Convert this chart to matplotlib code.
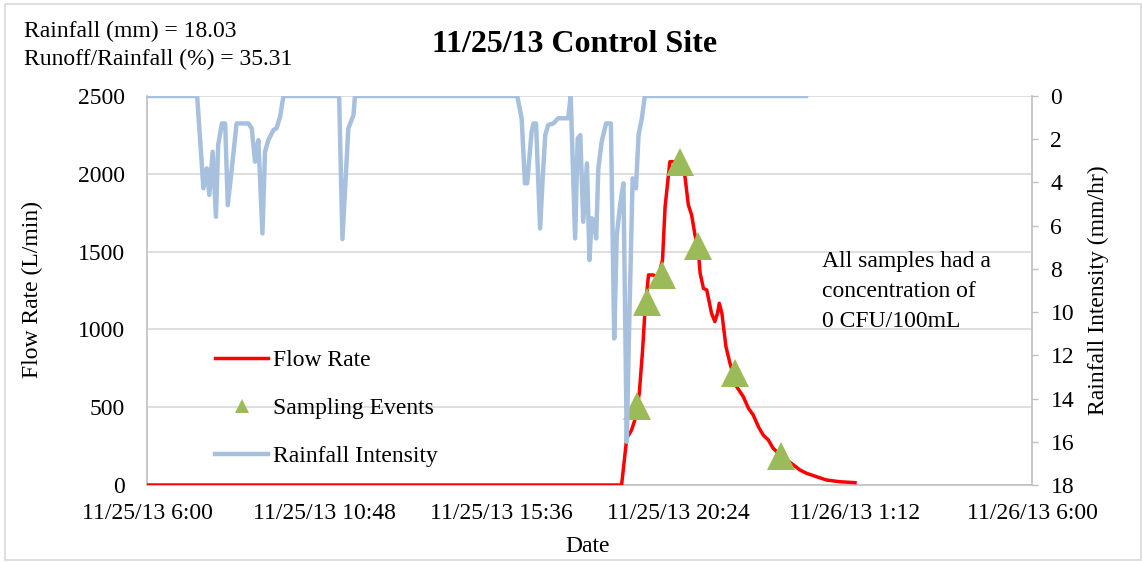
import matplotlib
matplotlib.use("Agg")
import matplotlib.pyplot as plt
from matplotlib.patches import Rectangle

plt.rcParams['font.family'] = ['Liberation Serif', 'DejaVu Serif']

# ---- data (x in hours after 11/25/13 6:00) ----
rain_hours = [0, 1.36, 1.53, 1.62, 1.69, 1.78, 1.87, 1.93, 2.03, 2.12, 2.19, 2.30, 2.43, 2.75,
              2.84, 2.93, 3.02, 3.13, 3.20, 3.29, 3.43, 3.51, 3.61, 3.70,
              5.21, 5.30, 5.46, 5.60, 5.64,
              10.04, 10.16, 10.25, 10.31, 10.43, 10.48, 10.55, 10.66, 10.73, 10.80, 10.88,
              11.02, 11.15, 11.42, 11.49, 11.61, 11.68, 11.75, 11.83, 11.93, 12.00, 12.06,
              12.12, 12.18, 12.24, 12.33, 12.45, 12.58, 12.67, 12.74, 12.83, 12.92, 13.01,
              13.08, 13.17, 13.26, 13.33, 13.42, 13.50, 17.87]
rain_intensity = [0, 0, 4.27, 3.35, 4.58, 2.58, 5.59, 2.27, 1.27, 1.27, 5.05, 3.35, 1.27, 1.27,
                  1.5, 3.04, 2.04, 6.36, 2.58, 2.04, 1.57, 1.5, 0.96, 0,
                  0, 6.62, 1.5, 0.88, 0,
                  0, 1.03, 4.04, 4.04, 1.65, 1.27, 1.27, 6.13, 3.81, 1.81, 1.34,
                  1.27, 1.03, 1.03, 0, 6.59, 1.96, 1.81, 5.82, 3.12, 7.59, 5.66,
                  5.74, 6.59, 3.35, 2.11, 1.27, 1.27, 11.22, 6.44, 5.05, 4.04, 16.0,
                  10.3, 3.81, 4.27, 1.81, 1.03, 0, 0]

flow_hours = [0, 12.87, 13.01, 13.14, 13.23, 13.35, 13.44, 13.50, 13.60, 13.71, 13.87, 13.98,
              14.05, 14.18, 14.27, 14.46, 14.59, 14.68, 14.77, 14.86, 14.95, 15.00, 15.09,
              15.18, 15.31, 15.40, 15.47, 15.52, 15.59, 15.70, 15.81, 15.99, 16.17, 16.31,
              16.44, 16.58, 16.71, 16.85, 16.98, 17.17, 17.35, 17.53, 17.71, 17.89, 18.16,
              18.43, 18.79, 19.20]
flow_rate = [0, 0, 300, 353, 418, 589, 868, 1103, 1350, 1350, 1339, 1446,
             1789, 2078, 2078, 2057, 1981, 1800, 1735, 1607, 1510, 1361, 1264,
             1253, 1103, 1050, 1103, 1168, 1103, 889, 782, 632, 568, 493,
             450, 375, 321, 289, 236, 193, 161, 129, 96, 75, 53,
             32, 21, 15]

sample_hours = [13.30, 13.55, 13.96, 14.46, 14.95, 15.95, 17.18]
sample_flow = [506, 1174, 1350, 2074, 1536, 720, 184]

x_tick_hours = [0, 4.8, 9.6, 14.4, 19.2, 24.0]
x_tick_labels = ["11/25/13 6:00", "11/25/13 10:48", "11/25/13 15:36",
                 "11/25/13 20:24", "11/26/13 1:12", "11/26/13 6:00"]
left_ticks = [0, 500, 1000, 1500, 2000, 2500]
right_ticks = [0, 2, 4, 6, 8, 10, 12, 14, 16, 18]

# ---- figure ----
W, H = 1142, 562
fig = plt.figure(figsize=(W / 100, H / 100), dpi=100)

def fx(px):
    return px / W

def fy(py):
    return 1 - py / H

ax = fig.add_axes([fx(147), fy(485), fx(1032) - fx(147), fy(96) - fy(485)])
ax2 = ax.twinx()

FS = 17
spine_c = '#BFBFBF'
grid_c = '#D9D9D9'

l_flow, = ax.plot(flow_hours, flow_rate, color='#FF0000', lw=2.5, zorder=3,
                  solid_joinstyle='round', label='Flow Rate')
l_samp, = ax.plot(sample_hours, sample_flow, linestyle='none', marker='^', markersize=20,
                  color='#9BBB59', markeredgewidth=0, zorder=4, label='Sampling Events')
l_rain, = ax2.plot(rain_hours, rain_intensity, color='#A7C0DE', lw=3.2,
                   solid_joinstyle='round', label='Rainfall Intensity')

ax.set_xlim(0, 24)
ax.set_ylim(0, 2500)
ax2.set_ylim(18, 0)

ax.set_xticks(x_tick_hours)
ax.set_xticklabels(x_tick_labels, fontsize=FS)
ax.set_yticks(left_ticks)
ax.set_yticklabels([str(v) for v in left_ticks], fontsize=FS)
ax2.set_yticks(right_ticks)
ax2.set_yticklabels([str(v) for v in right_ticks], fontsize=FS)

ax.tick_params(axis='x', length=0, pad=13)
ax.tick_params(axis='y', length=0, pad=16)
ax2.tick_params(axis='y', length=4.3, width=1, color=spine_c, pad=9)

ax.yaxis.grid(True, color=grid_c, lw=1.2)
ax.set_axisbelow(True)

for a in (ax, ax2):
    a.spines['top'].set_visible(False)
    for s in ('left', 'bottom', 'right'):
        a.spines[s].set_color(spine_c)
        a.spines[s].set_linewidth(1.2)
ax2.spines['left'].set_visible(False)
ax2.spines['bottom'].set_visible(False)
ax.spines['right'].set_visible(False)

# axis titles
fig.text(fx(32), fy(290), "Flow Rate (L/min)", rotation=90, ha='center', va='center', fontsize=FS)
fig.text(fx(1098), fy(290), "Rainfall Intensity (mm/hr)", rotation=90, ha='center', va='center', fontsize=FS)
fig.text(fx(588), fy(546), "Date", ha='center', va='center', fontsize=FS)

# title & info
fig.text(fx(575), fy(44), "11/25/13 Control Site", ha='center', va='center',
         fontsize=23, fontweight='bold')
fig.text(fx(24), fy(37), "Rainfall (mm) = 18.03", ha='left', va='baseline', fontsize=FS)
fig.text(fx(24), fy(65), "Runoff/Rainfall (%) = 35.31", ha='left', va='baseline', fontsize=FS)

# annotation
for i, line in enumerate(["All samples had a", "concentration of", "0 CFU/100mL"]):
    fig.text(fx(822), fy(267 + 30 * i), line, ha='left', va='baseline', fontsize=FS)

# legend
ax2.legend(handles=[l_flow, l_samp, l_rain], loc='center left',
           bbox_to_anchor=(fx(215), fy(408.5)), bbox_transform=fig.transFigure,
           frameon=False, fontsize=FS, handlelength=2.25, handletextpad=0.22,
           labelspacing=1.12, borderpad=0, borderaxespad=0, markerscale=0.5)

# outer border
fig.patches.append(Rectangle((fx(5), fy(560)), fx(1141) - fx(5), fy(4) - fy(560),
                             transform=fig.transFigure, fill=False, edgecolor=grid_c, lw=1.2))

fig.savefig("out.png", dpi=100)
